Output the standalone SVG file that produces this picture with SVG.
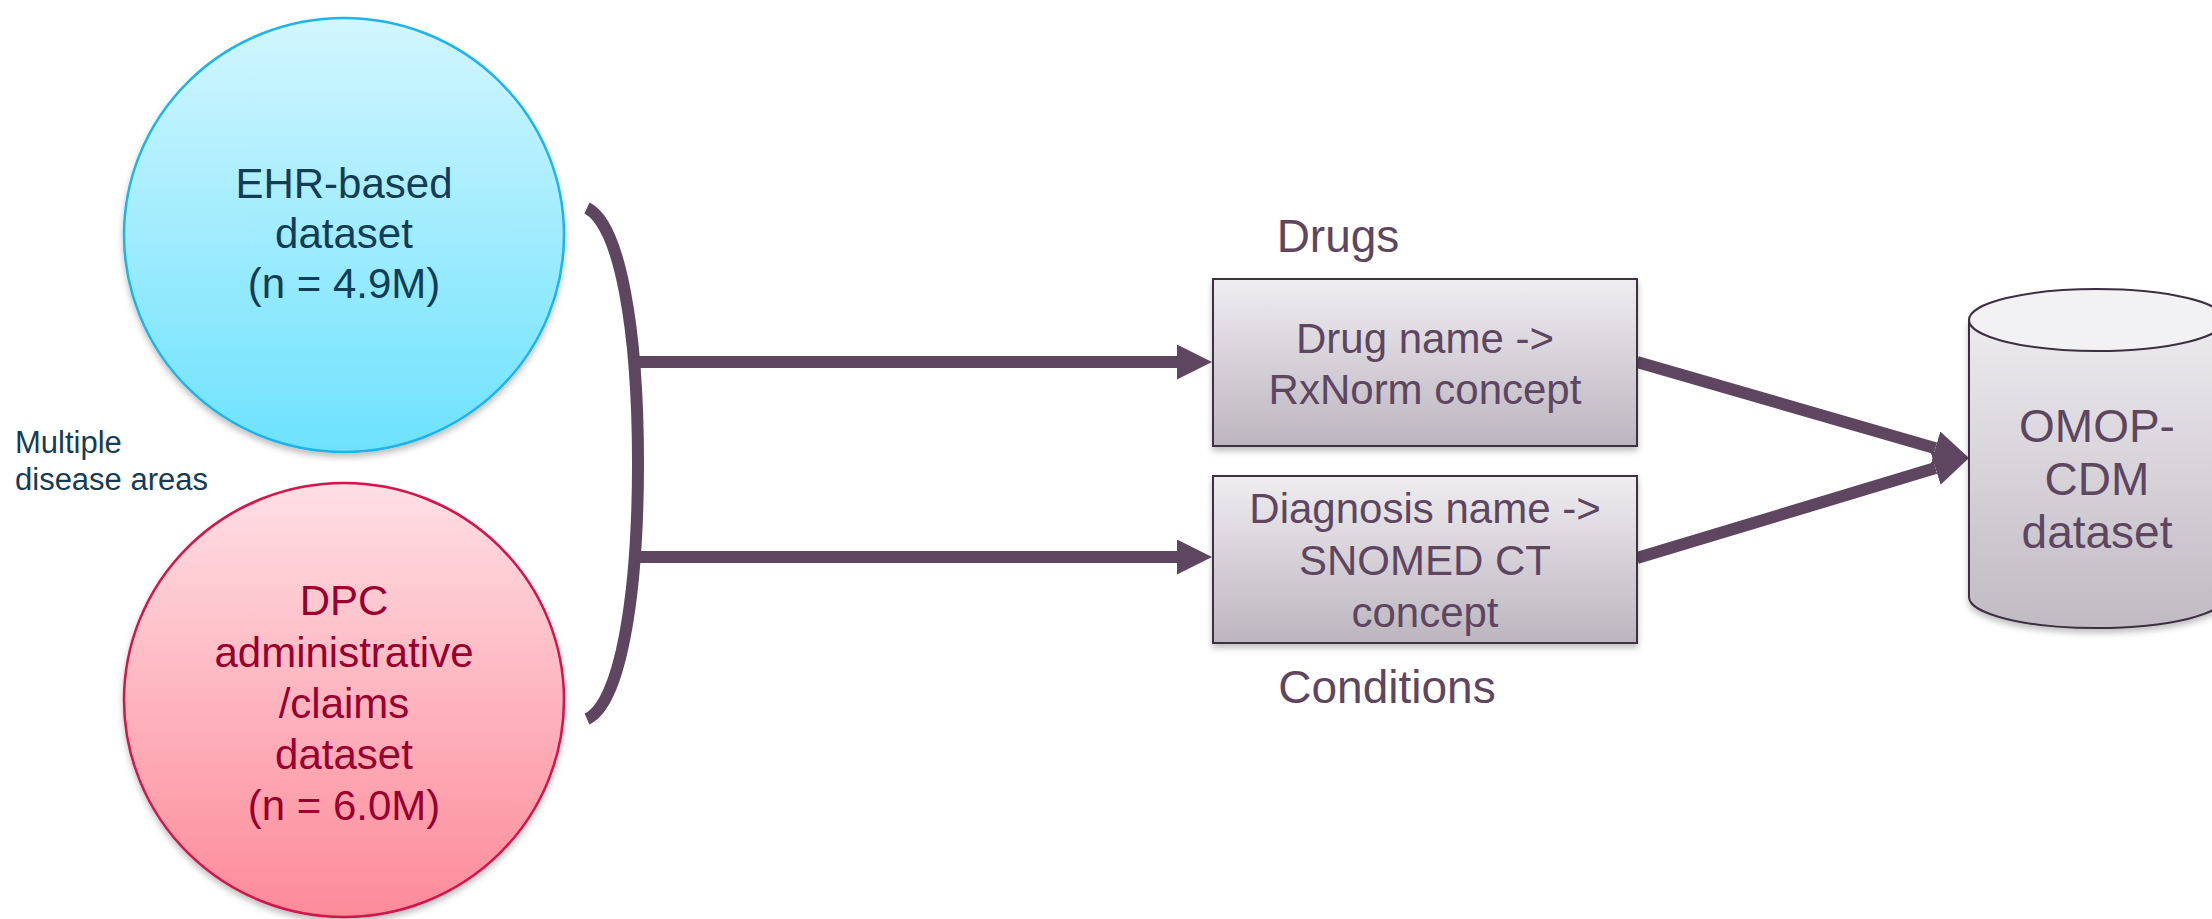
<svg xmlns="http://www.w3.org/2000/svg" width="2212" height="919" viewBox="0 0 2212 919">
  <defs>
    <linearGradient id="gBlue" x1="0" y1="0" x2="0" y2="1">
      <stop offset="0" stop-color="#D2F6FE"/>
      <stop offset="1" stop-color="#6DE2FD"/>
    </linearGradient>
    <linearGradient id="gRed" x1="0" y1="0" x2="0" y2="1">
      <stop offset="0" stop-color="#FEDFE4"/>
      <stop offset="1" stop-color="#FD8A99"/>
    </linearGradient>
    <linearGradient id="gBox" x1="0" y1="0" x2="0" y2="1">
      <stop offset="0" stop-color="#EFEDF0"/>
      <stop offset="1" stop-color="#BCB5BF"/>
    </linearGradient>
    <linearGradient id="gCyl" x1="0" y1="0" x2="0" y2="1">
      <stop offset="0" stop-color="#EDEBEE"/>
      <stop offset="1" stop-color="#C0BAC3"/>
    </linearGradient>
    <filter id="shadow" x="-10%" y="-10%" width="120%" height="130%">
      <feDropShadow dx="0" dy="4" stdDeviation="3" flood-color="#000" flood-opacity="0.25"/>
    </filter>
    <marker id="arrow" markerUnits="userSpaceOnUse" markerWidth="36" markerHeight="36" refX="0" refY="17.5" orient="auto">
      <path d="M0,0 L35,17.5 L0,35 Z" fill="#5E4661"/>
    </marker>
    <style>
      .ell { stroke-width: 2.5; filter: url(#shadow); }
      .t { font-family: "Liberation Sans", Arial, sans-serif; text-anchor: middle; }
      .blueT { fill: #153C55; font-size: 42px; }
      .redT { fill: #990030; font-size: 42px; }
      .purT { fill: #5E4661; }
      .box { fill: url(#gBox); stroke: #3D3340; stroke-width: 2; filter: url(#shadow); }
      .conn { fill: none; stroke: #5E4661; stroke-width: 12; }
    </style>
  </defs>

  <g id="ehr">
    <ellipse class="ell" cx="344" cy="235" rx="220" ry="217" fill="url(#gBlue)" stroke="#1EB4EA"/>
    <text class="t blueT" x="344" y="198">EHR-based</text>
    <text class="t blueT" x="344" y="248">dataset</text>
    <text class="t blueT" x="344" y="298">(n = 4.9M)</text>
  </g>

  <g id="dpc">
    <ellipse class="ell" cx="344" cy="700" rx="220" ry="217" fill="url(#gRed)" stroke="#D2134C"/>
    <text class="t redT" x="344" y="615">DPC</text>
    <text class="t redT" x="344" y="667">administrative</text>
    <text class="t redT" x="344" y="718">/claims</text>
    <text class="t redT" x="344" y="769">dataset</text>
    <text class="t redT" x="344" y="820">(n = 6.0M)</text>
  </g>

  <g id="multiple-label">
    <text font-family="Liberation Sans, Arial, sans-serif" font-size="31" fill="#153C55">
      <tspan x="15" y="453">Multiple</tspan>
      <tspan x="15" y="490">disease areas</tspan>
    </text>
  </g>

  <g id="connectors">
    <path class="conn" d="M587,208 C620,224 638,330 638,463 C638,598 620,704 587,719"/>
    <line class="conn" x1="632" y1="362" x2="1177" y2="362" marker-end="url(#arrow)"/>
    <line class="conn" x1="632" y1="557" x2="1177" y2="557" marker-end="url(#arrow)"/>
    <line class="conn" x1="1637" y1="362" x2="1935.4" y2="448.3" marker-end="url(#arrow)"/>
    <line class="conn" x1="1637" y1="558" x2="1935.5" y2="468.1" marker-end="url(#arrow)"/>
  </g>

  <g id="drugs">
    <text class="t purT" x="1338" y="252" font-size="46">Drugs</text>
    <rect class="box" x="1213" y="279" width="424" height="167"/>
    <text class="t purT" x="1425" y="353" font-size="42">Drug name -&gt;</text>
    <text class="t purT" x="1425" y="404" font-size="42">RxNorm concept</text>
  </g>

  <g id="conditions">
    <rect class="box" x="1213" y="476" width="424" height="167"/>
    <text class="t purT" x="1425" y="523" font-size="42">Diagnosis name -&gt;</text>
    <text class="t purT" x="1425" y="575" font-size="42">SNOMED CT</text>
    <text class="t purT" x="1425" y="627" font-size="42">concept</text>
    <text class="t purT" x="1387" y="703" font-size="46">Conditions</text>
  </g>

  <g id="omop">
    <path d="M1969,320 L1969,597 A128,31 0 0 0 2225,597 L2225,320 Z" fill="url(#gCyl)" stroke="#3D2F42" stroke-width="2" filter="url(#shadow)"/>
    <ellipse cx="2097" cy="320" rx="128" ry="31" fill="#F2F1F3" stroke="#3D2F42" stroke-width="2"/>
    <text class="t purT" x="2097" y="442" font-size="46">OMOP-</text>
    <text class="t purT" x="2097" y="495" font-size="46">CDM</text>
    <text class="t purT" x="2097" y="548" font-size="46">dataset</text>
  </g>
</svg>
